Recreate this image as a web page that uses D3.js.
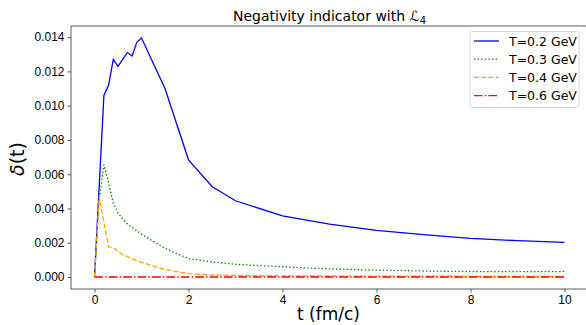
<!DOCTYPE html>
<html>
<head>
<meta charset="utf-8">
<script src="https://cdn.jsdelivr.net/npm/d3@7"></script>
<style>
  body { margin: 0; background: #fff; }
  svg { font-family: "DejaVu Sans", sans-serif; }
</style>
</head>
<body>
<div id="chart"></div>
<script>
// time grid (fm/c) and delta(t) for each temperature
const tValues = [0, 0.1, 0.2, 0.3, 0.4, 0.5, 0.6, 0.7, 0.8, 0.9, 1.0, 1.5, 2, 2.5, 3, 4, 5, 6, 7, 8, 9, 10];
const deltaT02 = [0, 0.0053, 0.0106, 0.0112, 0.0127, 0.0123, 0.0127, 0.0131, 0.0129, 0.0137, 0.01395, 0.0110, 0.00684, 0.00528, 0.00445, 0.00357, 0.00309, 0.00272, 0.00247, 0.00225, 0.00212, 0.00202];
const deltaT03 = [0, 0.0045, 0.00655, 0.00548, 0.00431, 0.00373, 0.0034, 0.0031, 0.0029, 0.0027, 0.0025, 0.00167, 0.00107, 0.00088, 0.00074, 0.0006, 0.00047, 0.0004, 0.00035, 0.00032, 0.00031, 0.00031];
const deltaT04 = [0, 0.0047, 0.0032, 0.00178, 0.0017, 0.0015, 0.0013, 0.0012, 0.00107, 0.00095, 0.00085, 0.00043, 0.0002, 0.00012, 0.00009, 0.00007, 0.00006, 0.00005, 0.00005, 0.00004, 0.00004, 0.00004];
const deltaT06 = [0, 0, 0, 0, 0, 0, 0, 0, 0, 0, 0, 0, 0, 0, 0, 0, 0, 0, 0, 0, 0, 0];
const seriesNames = ["T=0.2 GeV", "T=0.3 GeV", "T=0.4 GeV", "T=0.6 GeV"];
const xTicks = [0, 2, 4, 6, 8, 10];
const yTicks = [0, 0.002, 0.004, 0.006, 0.008, 0.010, 0.012, 0.014];

const chartWidth = 586, chartHeight = 325;
const plotLeft = 71, plotRight = 588, plotTop = 26, plotBottom = 289;

var colors = ["blue", "green", "orange", "red"];
var dashes = [null, "1.4,2.2", "5,2.2", "8.6,2.2,1.4,2.2"];
var allSeries = [deltaT02, deltaT03, deltaT04, deltaT06];

var svg = d3.select("#chart").append("svg")
    .attr("width", chartWidth).attr("height", chartHeight);

var x = d3.scaleLinear().domain([-0.5, 10.5]).range([plotLeft, plotRight]);
var y = d3.scaleLinear().domain([-0.0007, 0.01465]).range([plotBottom, plotTop]);

// axes
svg.append("g")
    .attr("transform", "translate(0," + plotBottom + ")")
    .call(d3.axisBottom(x).tickValues(xTicks).tickSize(3.5).tickPadding(3).tickFormat(d3.format("d")))
    .call(g => g.select(".domain").remove())
    .selectAll("text").style("font-size", "12px").attr("fill", "#000");

svg.append("g")
    .attr("transform", "translate(" + plotLeft + ",0)")
    .call(d3.axisLeft(y).tickValues(yTicks).tickSize(3.5).tickPadding(3).tickFormat(d3.format(".3f")))
    .call(g => g.select(".domain").remove())
    .selectAll("text").style("font-size", "12px").attr("fill", "#000");

svg.selectAll(".tick line").attr("stroke", "#333").attr("stroke-width", 0.8);

// lines
var line = d3.line()
    .x(function(d) { return x(d[0]); })
    .y(function(d) { return y(d[1]); });

for (var i in allSeries) {
    var pts = tValues.map(function(t, j) { return [t, allSeries[i][j]]; });
    svg.append("path")
        .datum(pts)
        .attr("d", line)
        .attr("fill", "none")
        .attr("stroke", colors[i])
        .attr("stroke-width", 1.3)
        .attr("stroke-dasharray", dashes[i]);
}

// frame
svg.append("rect")
    .attr("x", plotLeft).attr("y", plotTop)
    .attr("width", plotRight - plotLeft).attr("height", plotBottom - plotTop)
    .attr("fill", "none").attr("stroke", "#333").attr("stroke-width", 0.8);

// title and labels
svg.append("text")
    .attr("x", (plotLeft + plotRight) / 2).attr("y", 21)
    .attr("text-anchor", "middle")
    .style("font-size", "14px")
    .html("Negativity indicator with <tspan font-style='italic'>ℒ</tspan><tspan font-size='10px' dy='2.5'>4</tspan>");

svg.append("text")
    .attr("x", (plotLeft + plotRight) / 2 - 1).attr("y", 320)
    .attr("text-anchor", "middle")
    .style("font-size", "17px")
    .text("t (fm/c)");

svg.append("text")
    .attr("transform", "translate(24,159) rotate(-90)")
    .attr("text-anchor", "middle")
    .style("font-size", "19px")
    .html("<tspan font-style='italic'>δ</tspan>(t)");

// legend
var leg = svg.append("g");
leg.append("rect")
    .attr("x", 470).attr("y", 31.5).attr("width", 109).attr("height", 76)
    .attr("rx", 2.5)
    .attr("fill", "#fff").attr("fill-opacity", 0.8)
    .attr("stroke", "#ccc").attr("stroke-width", 0.8);
for (var k = 0; k < seriesNames.length; k++) {
    var ly = 41 + k * 18.2;
    leg.append("line")
        .attr("x1", 474).attr("x2", 499).attr("y1", ly).attr("y2", ly)
        .attr("stroke", colors[k]).attr("stroke-width", 1.3)
        .attr("stroke-dasharray", dashes[k]);
    leg.append("text")
        .attr("x", 509).attr("y", ly + 4.5)
        .style("font-size", "12.5px")
        .text(seriesNames[k]);
}
</script>
</body>
</html>
